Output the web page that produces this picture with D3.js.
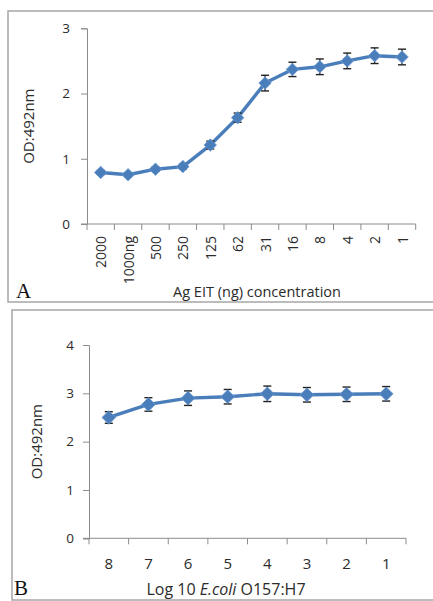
<!DOCTYPE html>
<html>
<head>
<meta charset="utf-8">
<script src="https://cdn.jsdelivr.net/npm/d3@7"></script>
<style>
  body { margin: 0; background: #fff; }
  text { font-family: "Open Sans", "Liberation Sans", sans-serif; fill: #2b2b2b; }
</style>
</head>
<body>
<script>
// panel A data
const catsA = ['2000', '1000ng', '500', '250', '125', '62', '31', '16', '8', '4', '2', '1'];
const valsA = [0.79, 0.755, 0.84, 0.88, 1.21, 1.63, 2.16, 2.37, 2.41, 2.50, 2.58, 2.56];
const errA = [0.03, 0.03, 0.03, 0.04, 0.06, 0.07, 0.12, 0.11, 0.12, 0.12, 0.12, 0.12];
const ticksA = [0, 1, 2, 3];

// panel B data
const catsB = ['8', '7', '6', '5', '4', '3', '2', '1'];
const valsB = [2.50, 2.77, 2.90, 2.93, 2.99, 2.97, 2.98, 2.99];
const errB = [0.12, 0.14, 0.15, 0.15, 0.16, 0.15, 0.15, 0.15];
const ticksB = [0, 1, 2, 3, 4];

const width = 433, height = 601;
const blue = '#4a7ebb';

const svg = d3.select('body').append('svg')
    .attr('width', width)
    .attr('height', height);

// panel frames
svg.append('rect')
    .attr('x', 8).attr('y', 11).attr('width', 440).attr('height', 291)
    .attr('fill', 'none').attr('stroke', '#a6a6a6').attr('stroke-width', 1.5);
svg.append('rect')
    .attr('x', 12).attr('y', 310).attr('width', 440).attr('height', 290)
    .attr('fill', 'none').attr('stroke', '#a6a6a6').attr('stroke-width', 1.5);

function drawPanel(opt) {
    const g = svg.append('g');

    const x = d3.scaleBand().domain(opt.cats).range([opt.left, opt.right]);
    const y = d3.scaleLinear().domain([0, opt.ymax]).range([opt.bottom, opt.top]);

    // y axis
    const yAxis = g.append('g')
        .attr('transform', 'translate(' + opt.left + ',0)')
        .call(d3.axisLeft(y).tickValues(opt.yticks).tickFormat(d3.format('d'))
            .tickSize(6).tickPadding(opt.yPad));
    yAxis.select('.domain').attr('stroke', '#8c8c8c');
    yAxis.selectAll('.tick line').attr('stroke', '#8c8c8c');
    yAxis.selectAll('text').attr('font-size', opt.yFont).style('fill', '#2b2b2b')
        .style('font-family', '"Open Sans", sans-serif');

    // x axis line and ticks at band edges
    g.append('line')
        .attr('x1', opt.left - 6).attr('x2', opt.right)
        .attr('y1', opt.bottom).attr('y2', opt.bottom)
        .attr('stroke', '#8c8c8c');
    const edges = opt.cats.map(function(c) { return x(c); }).concat([opt.right]);
    g.selectAll('.xtick')
        .data(edges).enter().append('line')
        .attr('x1', function(d) { return d; }).attr('x2', function(d) { return d; })
        .attr('y1', opt.bottom).attr('y2', opt.bottom + 6)
        .attr('stroke', '#8c8c8c');

    // x tick labels
    const lab = g.selectAll('.xlab')
        .data(opt.cats).enter().append('text')
        .attr('font-size', opt.xFont)
        .text(function(d) { return d; });
    if (opt.rotate) {
        lab.attr('text-anchor', 'end')
            .attr('transform', function(d) {
                return 'translate(' + (x(d) + x.bandwidth() / 2 + 5.5) + ',' + (opt.bottom + 12) + ') rotate(-90)';
            });
    } else {
        lab.attr('text-anchor', 'middle')
            .attr('x', function(d) { return x(d) + x.bandwidth() / 2; })
            .attr('y', opt.bottom + 31);
    }

    const cx = function(i) { return x(opt.cats[i]) + x.bandwidth() / 2; };

    // line
    const line = d3.line()
        .x(function(d, i) { return cx(i); })
        .y(function(d) { return y(d); });
    g.append('path')
        .datum(opt.vals)
        .attr('d', line)
        .attr('fill', 'none')
        .attr('stroke', blue)
        .attr('stroke-width', 3.4)
        .attr('stroke-linejoin', 'round');

    // error bars
    const eb = g.selectAll('.err')
        .data(opt.vals).enter().append('g');
    eb.append('line')
        .attr('x1', function(d, i) { return cx(i); }).attr('x2', function(d, i) { return cx(i); })
        .attr('y1', function(d, i) { return y(d + opt.err[i]); })
        .attr('y2', function(d, i) { return y(d - opt.err[i]); })
        .attr('stroke', '#222').attr('stroke-width', 1.2);
    [1, -1].forEach(function(s) {
        eb.append('line')
            .attr('x1', function(d, i) { return cx(i) - 4; }).attr('x2', function(d, i) { return cx(i) + 4; })
            .attr('y1', function(d, i) { return y(d + s * opt.err[i]); })
            .attr('y2', function(d, i) { return y(d + s * opt.err[i]); })
            .attr('stroke', '#222').attr('stroke-width', 1.4);
    });

    // diamond markers
    g.selectAll('.mk')
        .data(opt.vals).enter().append('path')
        .attr('d', d3.symbol().type(d3.symbolDiamond2).size(opt.mk))
        .attr('transform', function(d, i) { return 'translate(' + cx(i) + ',' + y(d) + ')'; })
        .attr('fill', blue)
        .attr('stroke', '#6f9bd1')
        .attr('stroke-width', 0.8);

    // axis titles
    g.append('text')
        .attr('text-anchor', 'middle')
        .attr('font-size', 15)
        .attr('transform', 'translate(' + opt.ylabX + ',' + ((opt.top + opt.bottom) / 2) + ') rotate(-90)')
        .text('OD:492nm');

    const xt = g.append('text')
        .attr('text-anchor', 'middle')
        .attr('font-size', opt.xlabFont)
        .attr('x', opt.xlabX)
        .attr('y', opt.xlabY);
    opt.xlabel.forEach(function(p) {
        xt.append('tspan').attr('font-style', p.italic ? 'italic' : null).text(p.t);
    });

    // panel letter
    g.append('text')
        .attr('x', opt.letterX).attr('y', opt.letterY)
        .attr('font-size', 21)
        .style('font-family', '"Liberation Serif", serif')
        .style('fill', '#111')
        .text(opt.letter);
}

drawPanel({
    cats: catsA, vals: valsA, err: errA, yticks: ticksA, ymax: 3,
    left: 87, right: 415.7, top: 28.3, bottom: 224, yPad: 11,
    rotate: true, mk: 100, yFont: 13.5, xFont: 14,
    ylabX: 34, xlabX: 257, xlabY: 297, xlabFont: 14.5,
    xlabel: [{t: 'Ag EIT (ng) concentration'}],
    letter: 'A', letterX: 16, letterY: 298
});

drawPanel({
    cats: catsB, vals: valsB, err: errB, yticks: ticksB, ymax: 4,
    left: 89, right: 406, top: 345, bottom: 538.3, yPad: 9,
    rotate: false, mk: 120, yFont: 13.5, xFont: 15,
    ylabX: 42, xlabX: 226, xlabY: 595, xlabFont: 16,
    xlabel: [{t: 'Log 10 '}, {t: 'E.coli', italic: true}, {t: ' O157:H7'}],
    letter: 'B', letterX: 14, letterY: 595
});
</script>
</body>
</html>
